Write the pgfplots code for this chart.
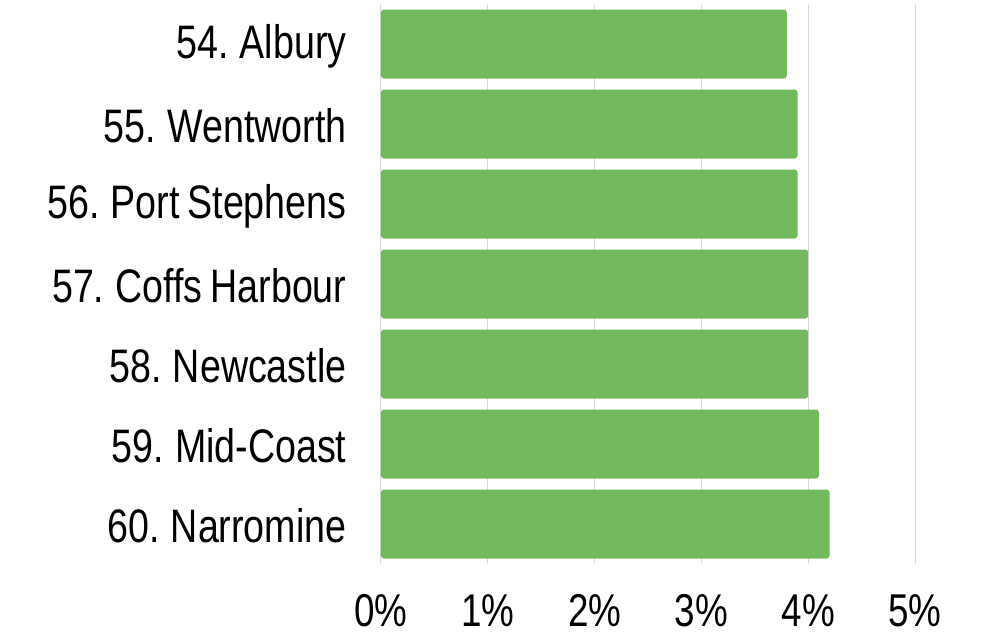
\documentclass[border=0pt]{standalone}
\usepackage{fontspec}
\setmainfont{Liberation Sans}[FakeStretch=0.8, WordSpace=0.75]
\usepackage{pgfplots}
\pgfplotsset{compat=1.18}
\definecolor{barg}{RGB}{114,185,94}
\definecolor{gridc}{RGB}{217,217,217}
\begin{document}
\begin{tikzpicture}
\begin{axis}[
  at={(0,0)}, anchor=south west,
  scale only axis,
  width=534pt, height=560pt,
  xmin=0, xmax=5,
  ymin=-0.5, ymax=6.5,
  y dir=reverse,
  xbar, bar width=69pt,
  xtick={0,1,2,3,4,5},
  xticklabels={0\%,1\%,2\%,3\%,4\%,5\%},
  ytick={0,1,2,3,4,5,6},
  yticklabels={54. Albury,55. Wentworth,56. Port Stephens,57. Coffs Harbour,58. Newcastle,59. Mid-Coast,60. Narromine},
  xmajorgrids, grid style={gridc, line width=1pt},
  axis line style={draw=none},
  major tick length=0pt,
  tick label style={font=\fontsize{46}{50}\selectfont, text=black},
  xticklabel style={yshift=-27pt},
  yticklabel style={xshift=-31pt, yshift=-2pt, font=\fontsize{47}{50}\selectfont},
  clip=false,
]
\addplot[fill=barg, draw=none, rounded corners=3pt] coordinates {
  (3.80,0) (3.90,1) (3.90,2) (4.00,3) (4.00,4) (4.10,5) (4.20,6)
};
\end{axis}
\useasboundingbox (-381pt,-71pt) rectangle (600pt,564pt);
\end{tikzpicture}
\end{document}
